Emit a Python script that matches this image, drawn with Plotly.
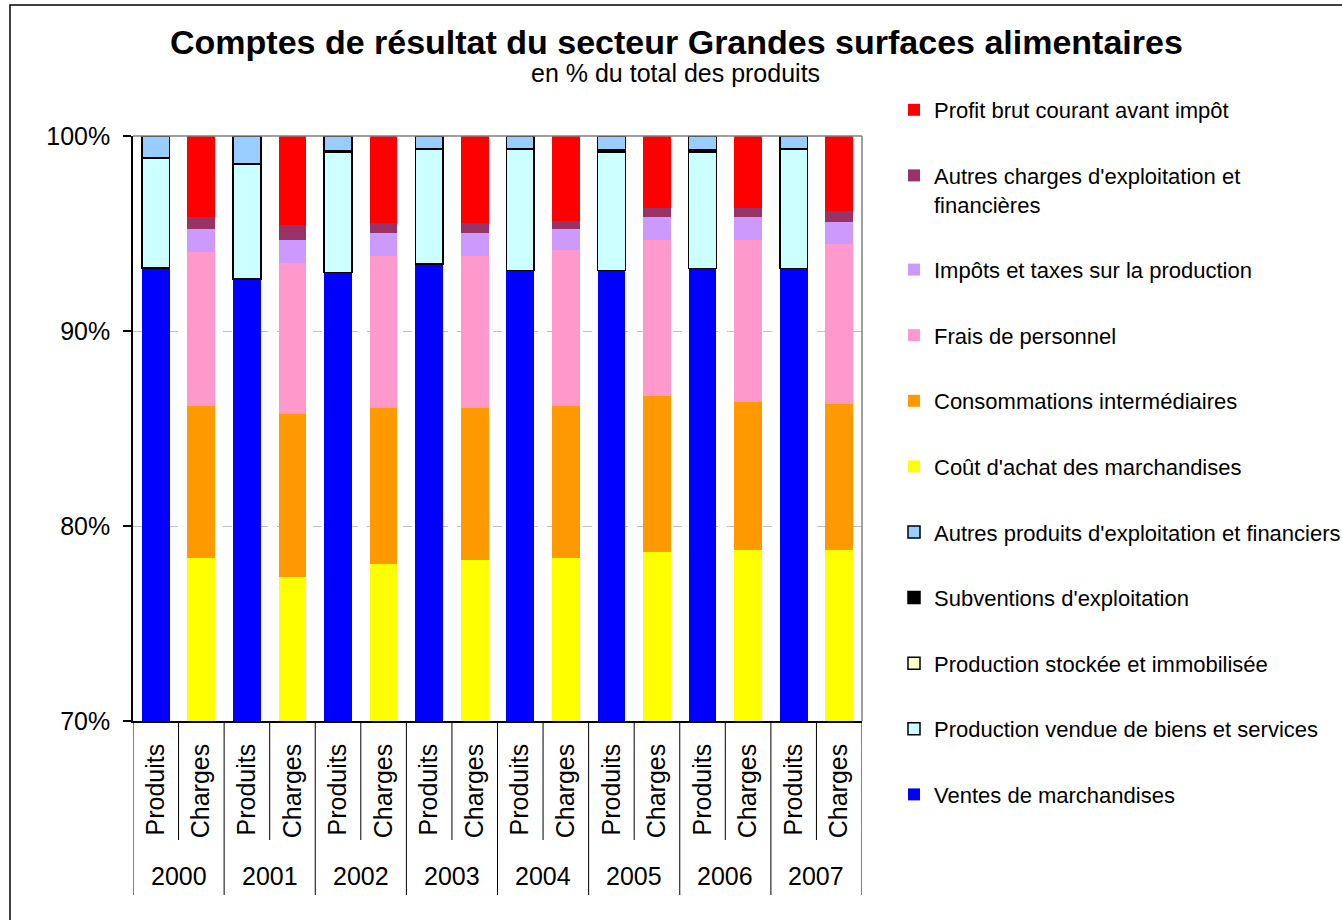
import plotly.graph_objects as go

# ---------------- data (percent of total products) ----------------
years = ["2000", "2001", "2002", "2003", "2004", "2005", "2006", "2007"]
sub_labels = ["Produits", "Charges"]

# Produits side
ventes_marchandises = [93.22, 92.67, 93.01, 93.44, 93.11, 93.09, 93.20, 93.20]
production_vendue = [5.65, 5.87, 6.18, 5.86, 6.19, 6.09, 5.98, 6.10]
production_stockee = [0.01, 0.01, 0.01, 0.01, 0.01, 0.01, 0.01, 0.01]
subventions = [0.02, 0.02, 0.02, 0.02, 0.02, 0.12, 0.12, 0.02]
autres_produits = [1.10, 1.43, 0.78, 0.67, 0.67, 0.69, 0.69, 0.67]

# Charges side
cout_achat = [78.36, 77.38, 78.04, 78.26, 78.36, 78.67, 78.79, 78.79]
consommations = [7.79, 8.36, 8.00, 7.78, 7.79, 8.01, 7.59, 7.48]
frais_personnel = [7.90, 7.76, 7.81, 7.81, 7.99, 7.99, 8.29, 8.19]
impots_taxes = [1.16, 1.18, 1.16, 1.16, 1.07, 1.18, 1.18, 1.15]
autres_charges = [0.65, 0.76, 0.55, 0.55, 0.45, 0.44, 0.44, 0.56]
profit_brut = [4.14, 4.56, 4.44, 4.44, 4.34, 3.71, 3.71, 3.83]

y_ticks = [70, 80, 90, 100]

# ---------------- layout geometry (pixels) ----------------
W, H = 1342, 920
PL, PR, PT, PB = 133, 862, 136, 721
FONT = "Liberation Sans, Arial, Helvetica, sans-serif"


def px_x(x):
    return (x - PL) / (PR - PL)


def px_y(y):
    return (PB - y) / (PB - PT)


n_years = len(years)
pos_produits = [2 * i for i in range(n_years)]
pos_charges = [2 * i + 1 for i in range(n_years)]
BAR_W = 0.61

series = [
    ("Ventes de marchandises", ventes_marchandises, pos_produits, "#0000FF", None),
    ("Production vendue de biens et services", production_vendue, pos_produits, "#CCFFFF", "#000000"),
    ("Production stockée et immobilisée", production_stockee, pos_produits, "#FFFFCC", "#000000"),
    ("Subventions d'exploitation", subventions, pos_produits, "#000000", "#000000"),
    ("Autres produits d'exploitation et financiers", autres_produits, pos_produits, "#99CCFF", "#000000"),
    ("Coût d'achat des marchandises", cout_achat, pos_charges, "#FFFF00", None),
    ("Consommations intermédiaires", consommations, pos_charges, "#FF9900", None),
    ("Frais de personnel", frais_personnel, pos_charges, "#FF99CC", None),
    ("Impôts et taxes sur la production", impots_taxes, pos_charges, "#CC99FF", None),
    ("Autres charges d'exploitation et<br>financières", autres_charges, pos_charges, "#993366", None),
    ("Profit brut courant avant impôt", profit_brut, pos_charges, "#FF0000", None),
]

fig = go.Figure()
for i, (name, vals, pos, color, line) in enumerate(series):
    fig.add_trace(go.Bar(
        name=name,
        x=pos,
        y=vals,
        width=BAR_W,
        legendgroup=f"g{i}",
        legendrank=1000 - i,
        marker=dict(color=color,
                    line=dict(color=line if line else color, width=1.5 if line else 0)),
        hovertemplate="%{y:.2f}%<extra>" + name.replace("<br>", " ") + "</extra>",
    ))

# year labels
annotations = []
for i, yr in enumerate(years):
    annotations.append(dict(
        x=2 * i + 0.5, xref="x", y=px_y(876), yref="paper",
        text=yr, showarrow=False, xanchor="center", yanchor="middle",
        font=dict(family=FONT, size=25, color="#000000")))

# title & subtitle
annotations.append(dict(
    x=px_x(676), xref="paper", y=px_y(42), yref="paper",
    text="<b>Comptes de résultat du secteur Grandes surfaces alimentaires</b>",
    showarrow=False, xanchor="center", yanchor="middle",
    font=dict(family=FONT, size=34, color="#000000")))
annotations.append(dict(
    x=px_x(675), xref="paper", y=px_y(73), yref="paper",
    text="en % du total des produits",
    showarrow=False, xanchor="center", yanchor="middle",
    font=dict(family=FONT, size=25, color="#000000")))

# category divider lines below the axis
shapes = []
n_slots = 2 * n_years
for k in range(n_slots + 1):
    xb = k - 0.5
    long_line = (k % 2 == 0)
    shapes.append(dict(
        type="line", xref="x", yref="paper",
        x0=xb, x1=xb, y0=0, y1=px_y(895) if long_line else px_y(840),
        line=dict(color="#000000", width=1)))

# plot-area border (top & right, grey)
shapes.append(dict(type="line", xref="paper", yref="paper", x0=0, x1=1, y0=1, y1=1,
                   line=dict(color="#808080", width=1.5)))
shapes.append(dict(type="line", xref="paper", yref="paper", x0=1, x1=1, y0=0, y1=1,
                   line=dict(color="#808080", width=1.5)))
# outer chart frame
shapes.append(dict(type="rect", xref="paper", yref="paper",
                   x0=px_x(10), x1=px_x(1420), y0=px_y(5), y1=px_y(1000),
                   line=dict(color="#000000", width=1.5), fillcolor="rgba(0,0,0,0)"))

fig.update_layout(
    width=W, height=H,
    margin=dict(l=PL, r=W - PR, t=PT, b=H - PB, autoexpand=False),
    paper_bgcolor="#FFFFFF", plot_bgcolor="#FFFFFF",
    barmode="stack",
    font=dict(family=FONT, size=25, color="#000000"),
    showlegend=True,
    legend=dict(
        xref="container", yref="container",
        x=894 / W, xanchor="left",
        y=1 - 89 / H, yanchor="top",
        traceorder="grouped",
        tracegroupgap=34,
        valign="top",
        maxheight=900,
        font=dict(family=FONT, size=22, color="#000000"),
        bgcolor="rgba(0,0,0,0)",
        itemclick=False, itemdoubleclick=False,
    ),
    xaxis=dict(
        range=[-0.5, n_slots - 0.5],
        tickmode="array",
        tickvals=list(range(n_slots)),
        ticktext=sub_labels * n_years,
        tickangle=-90,
        ticks="",
        ticklabelstandoff=11,
        tickfont=dict(family=FONT, size=25, color="#000000"),
        showgrid=False, zeroline=False,
        showline=True, linecolor="#000000", linewidth=1.5,
        fixedrange=True,
    ),
    yaxis=dict(
        range=[70, 100],
        tickmode="array",
        tickvals=y_ticks,
        ticktext=[f"{v}%" for v in y_ticks],
        ticks="outside", ticklen=8, tickcolor="#000000", tickwidth=1.5,
        ticklabelstandoff=8,
        tickfont=dict(family=FONT, size=25, color="#000000"),
        showgrid=True, gridcolor="#C0C0C0", gridwidth=1, griddash="dash",
        zeroline=False,
        showline=True, linecolor="#000000", linewidth=1.5,
        fixedrange=True,
    ),
    annotations=annotations,
    shapes=shapes,
)

fig.write_html("out.html", config={"displayModeBar": False},
               post_script="document.body.style.margin='0';")
